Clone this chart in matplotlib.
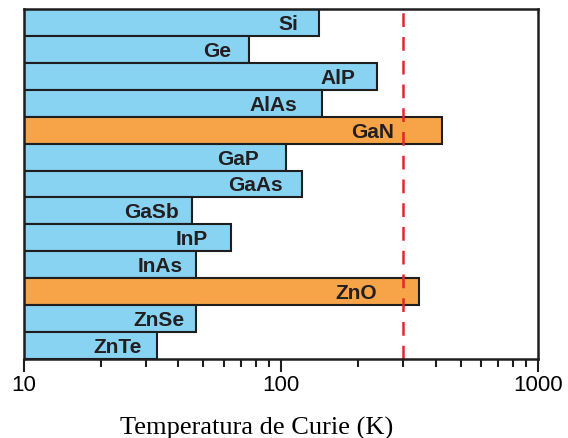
import numpy as np
from matplotlib import pyplot as plt
from matplotlib.ticker import LogLocator, NullFormatter, FixedLocator

# Curie temperatures (K), top to bottom as in the chart
materials = ["Si", "Ge", "AlP", "AlAs", "GaN", "GaP", "GaAs",
             "GaSb", "InP", "InAs", "ZnO", "ZnSe", "ZnTe"]
tc = [141, 75, 236, 145, 422, 105, 121, 45, 64, 47, 346, 47, 33]
highlight = ["GaN", "ZnO"]
room_temp = 300
x_ticks = [10, 100, 1000]

# how far (pixels) each label's right edge sits inside its bar end
label_pad = {"Si": 21, "Ge": 17, "AlP": 21, "AlAs": 25, "GaN": 48, "GaP": 27,
             "GaAs": 19, "GaSb": 13, "InP": 23, "InAs": 14, "ZnO": 42,
             "ZnSe": 12, "ZnTe": 15}

blue = "#88d2f2"
orange = "#f6a447"
edge = "#1e1e1e"

fig = plt.figure(figsize=(5.68, 4.39), dpi=100)
ax = fig.add_axes([23.5 / 568, 79 / 439, 514.5 / 568, 350 / 439])

y = np.arange(len(materials))
colors = [orange if m in highlight else blue for m in materials]
ax.barh(y, np.array(tc) - 10, left=10, height=1.0, color=colors,
        edgecolor=edge, linewidth=1.5, zorder=2)

for yi, m, v in zip(y, materials, tc):
    ax.annotate(m, xy=(v, yi), xytext=(-label_pad[m], -1),
                textcoords="offset pixels", ha="right", va="center",
                fontsize=15, fontweight="bold", family="Liberation Sans",
                color="#231f20", zorder=3)

ax.axvline(room_temp, color="#e0282e", linewidth=1.8, dashes=(5.5, 4),
           zorder=4)

ax.set_xscale("log")
ax.set_xlim(10, 1000)
ax.set_ylim(len(materials) - 0.5, -0.5)
ax.set_yticks([])

ax.xaxis.set_major_locator(FixedLocator(x_ticks))
ax.set_xticklabels([str(t) for t in x_ticks], family="Liberation Sans",
                   fontsize=16)
ax.xaxis.set_minor_locator(LogLocator(base=10, subs=np.arange(2, 10)))
ax.xaxis.set_minor_formatter(NullFormatter())
ax.tick_params(axis="x", which="major", direction="out", length=9,
               width=1.5, pad=2, color=edge)
ax.tick_params(axis="x", which="minor", direction="out", length=6,
               width=1.5, color=edge)

for s in ax.spines.values():
    s.set_linewidth(1.8)
    s.set_color(edge)
    s.set_zorder(5)

ax.set_xlabel("Temperatura de Curie (K)", family="Liberation Serif",
              fontsize=19)
ax.xaxis.label.set_va("baseline")
ax.xaxis.set_label_coords(0.454, -0.214)

plt.savefig("out.png", dpi=100)
